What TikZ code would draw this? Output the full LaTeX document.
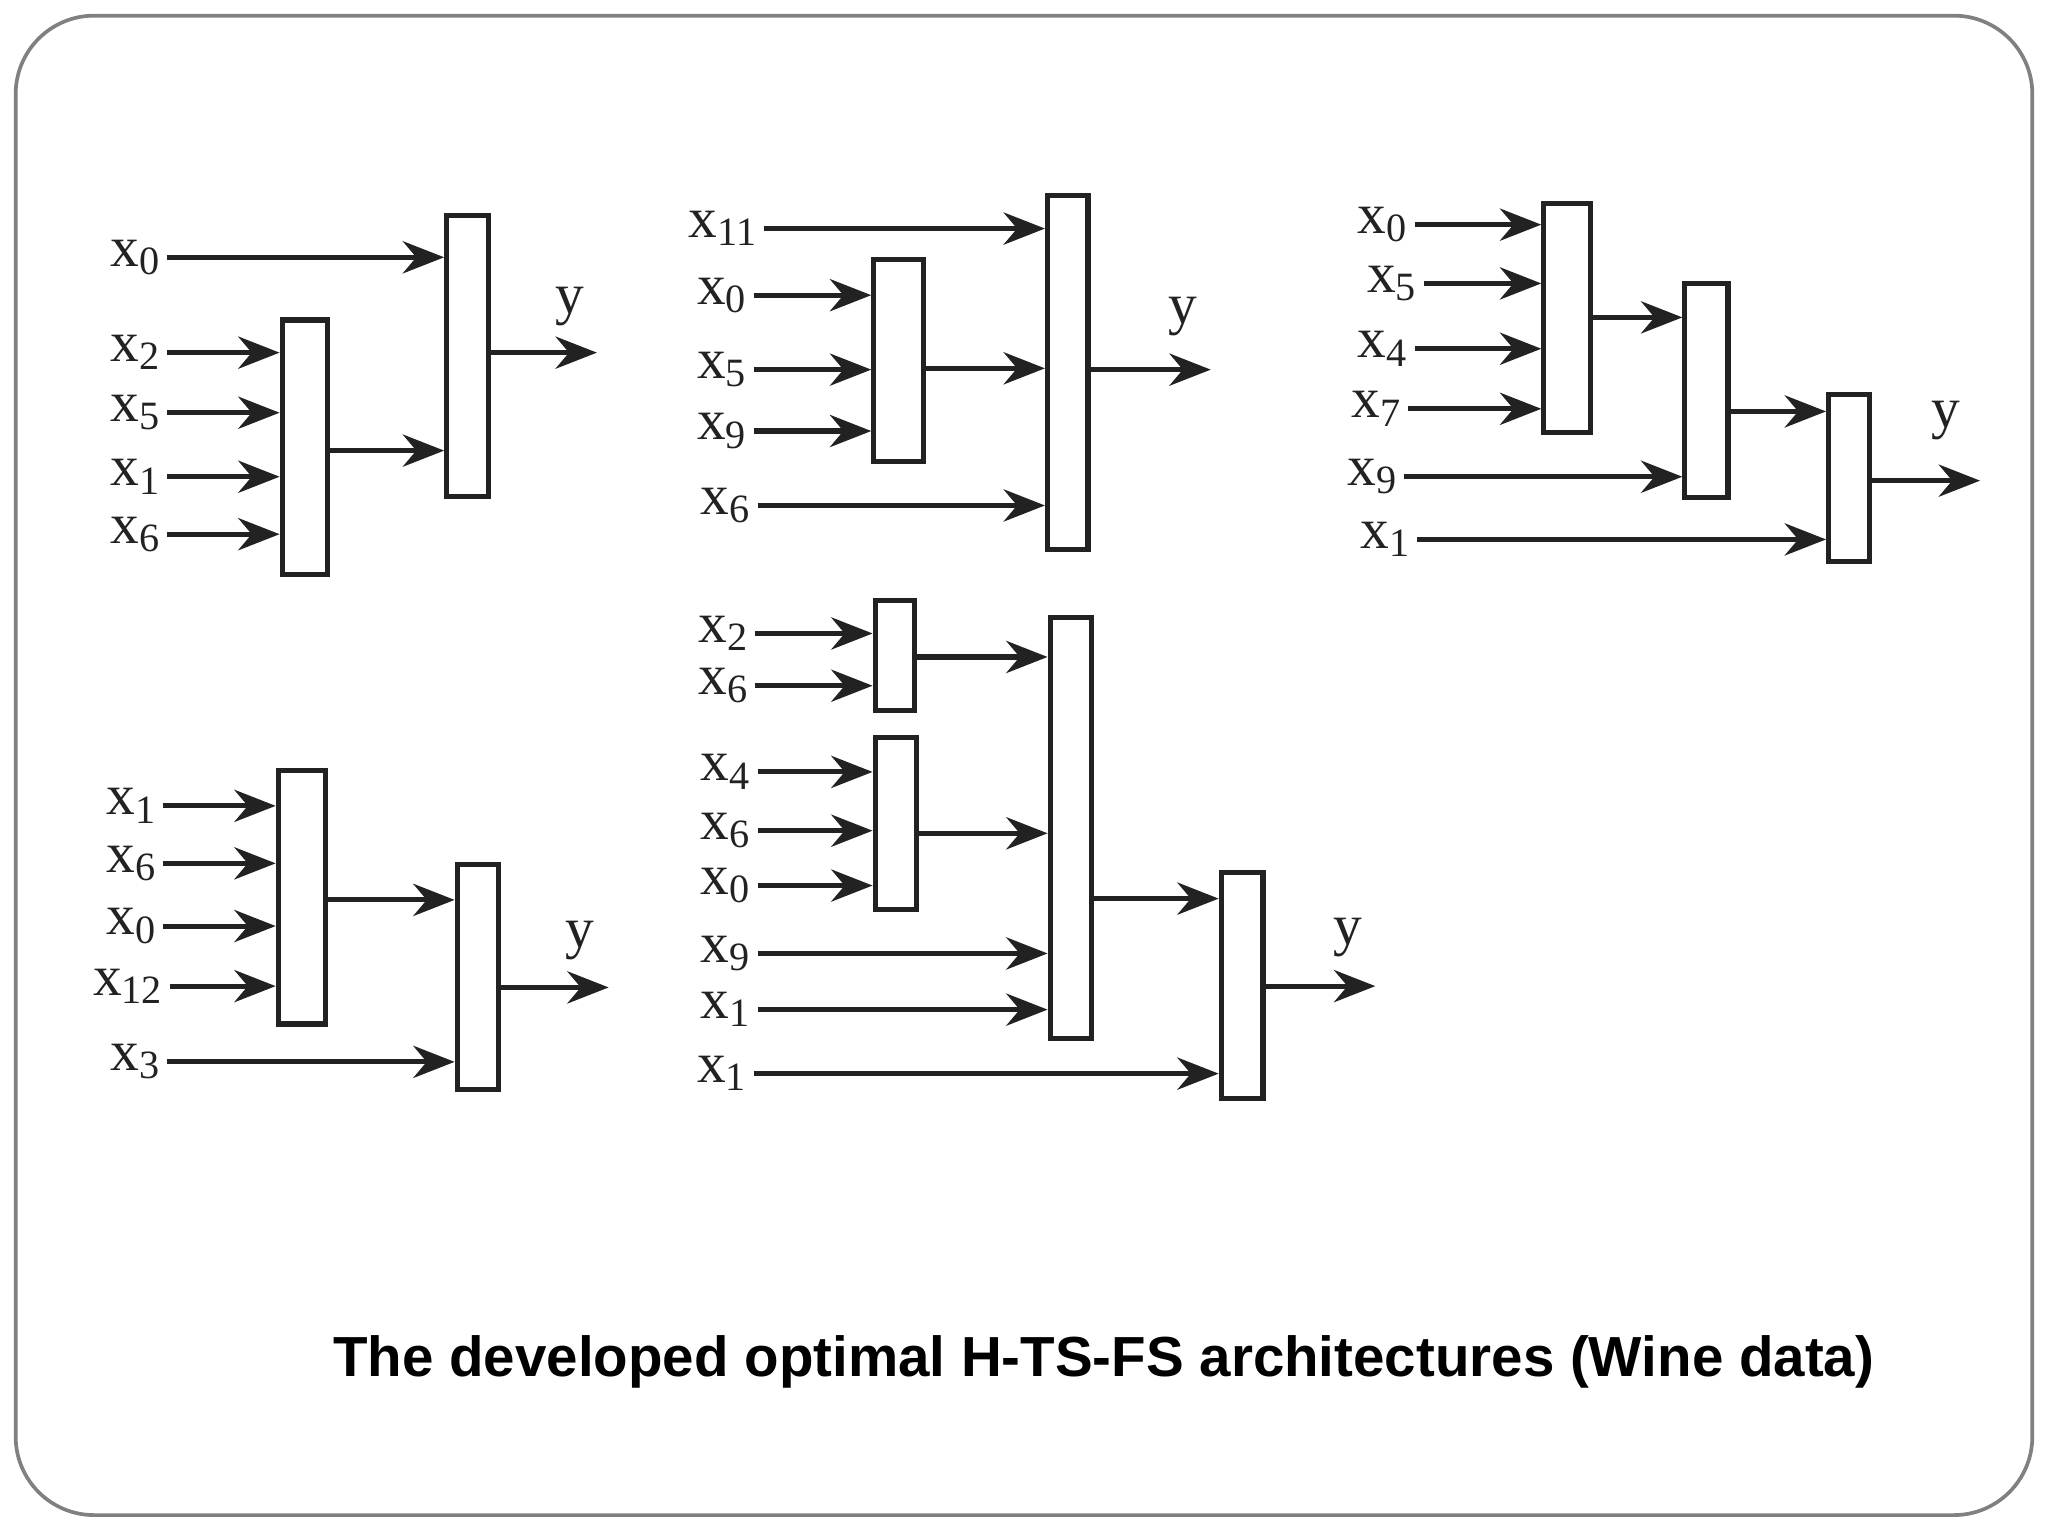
\documentclass[tikz,border=0pt]{standalone}
\usepackage{fontspec}
\setmainfont{Liberation Serif}
\newfontfamily\titlefont{Liberation Sans}
\usetikzlibrary{arrows.meta}
\definecolor{ink}{HTML}{222222}
\tikzset{
 box/.style={draw=ink, line width=1.1pt, inner sep=0pt},
 arr/.style={draw=ink, line width=1.1pt, -{Stealth[length=9pt,width=7pt]}},
 lab/.style={text=ink, font=\fontsize{12.5pt}{12.5pt}\selectfont, inner sep=1pt, anchor=east},
}
\newcommand{\bx}[5]{\node[box, minimum width={(#4-#2)*0.01cm}, minimum height={(#5-#3)*0.01cm}] (#1) at ({(#2+#4)/2},{(#3+#5)/2}) {};}
\newcommand{\inp}[5]{\coordinate (#1) at (#3,#4); \node[lab] (#1l) at (#1) {x\textsubscript{#2}}; \draw[arr] (#1) -- (#1 -| #5.west);}
\newcommand{\link}[3]{\draw[arr] (#1.east |- 0,#3) -- (#2.west |- 0,#3);}
\newcommand{\outp}[5]{\coordinate (#1) at (#3,#4); \draw[arr] (#2.east |- #1) -- (#1); \node[text=ink, font=\fontsize{12.5pt}{12.5pt}\selectfont] (#1l) at (#5) {y};}
\begin{document}
\begin{tikzpicture}[x=0.01cm,y=-0.01cm]
\useasboundingbox (0,0) rectangle (1568,1176);
\draw[gray, line width=0.8pt, rounded corners=0.6cm] (12,12) rectangle (1556,1160);
% diagram 1
\bx{A1}{342}{165}{374}{380}
\bx{B1}{216}{245}{251}{440}
\inp{a0}{0}{128}{197}{A1}
\inp{a1}{2}{128}{270}{B1}
\inp{a2}{5}{128}{316}{B1}
\inp{a3}{1}{128}{365}{B1}
\inp{a4}{6}{128}{409}{B1}
\link{B1}{A1}{345}
\outp{ay}{A1}{457}{270}{436,235}
% diagram 2
\bx{A2}{802}{150}{833}{421}
\bx{B2}{669}{199}{707}{353}
\inp{b0}{11}{585}{175}{A2}
\inp{b1}{0}{577}{226}{B2}
\inp{b2}{5}{577}{283}{B2}
\inp{b3}{9}{577}{330}{B2}
\link{B2}{A2}{282}
\inp{b4}{6}{580}{387}{A2}
\outp{by}{A2}{927}{283}{906,242}
% diagram 3
\bx{C1}{1182}{156}{1218}{331}
\bx{C2}{1290}{217}{1323}{381}
\bx{C3}{1400}{302}{1431}{430}
\inp{c0}{0}{1083}{172}{C1}
\inp{c1}{5}{1090}{217}{C1}
\inp{c2}{4}{1083}{267}{C1}
\inp{c3}{7}{1078}{313}{C1}
\link{C1}{C2}{243}
\inp{c4}{9}{1075}{365}{C2}
\link{C2}{C3}{315}
\inp{c5}{1}{1085}{413}{C3}
\outp{cy}{C3}{1516}{368}{1490,322}
% diagram 4
\bx{D1}{213}{590}{249}{784}
\bx{D2}{350}{662}{382}{834}
\inp{d0}{1}{125}{617}{D1}
\inp{d1}{6}{125}{661}{D1}
\inp{d2}{0}{125}{709}{D1}
\inp{d3}{12}{130}{755}{D1}
\link{D1}{D2}{689}
\inp{d4}{3}{128}{813}{D2}
\outp{dy}{D2}{466}{756}{444,720}
% diagram 5
\bx{E1}{670}{460}{700}{544}
\bx{E2}{670}{565}{702}{696}
\bx{E3}{804}{473}{836}{795}
\bx{E4}{935}{668}{967}{841}
\inp{e0}{2}{578}{485}{E1}
\inp{e1}{6}{578}{525}{E1}
\inp{e2}{4}{580}{591}{E2}
\inp{e3}{6}{580}{636}{E2}
\inp{e4}{0}{580}{678}{E2}
\link{E1}{E3}{503}
\link{E2}{E3}{638}
\inp{e5}{9}{580}{730}{E3}
\inp{e6}{1}{580}{773}{E3}
\link{E3}{E4}{688}
\inp{e7}{1}{577}{822}{E4}
\outp{ey}{E4}{1053}{755}{1032,718}
\node[font=\titlefont\bfseries\fontsize{12.3pt}{14pt}\selectfont] (title) at (845,1043) {The developed optimal H-TS-FS architectures (Wine data)};
\end{tikzpicture}
\end{document}
